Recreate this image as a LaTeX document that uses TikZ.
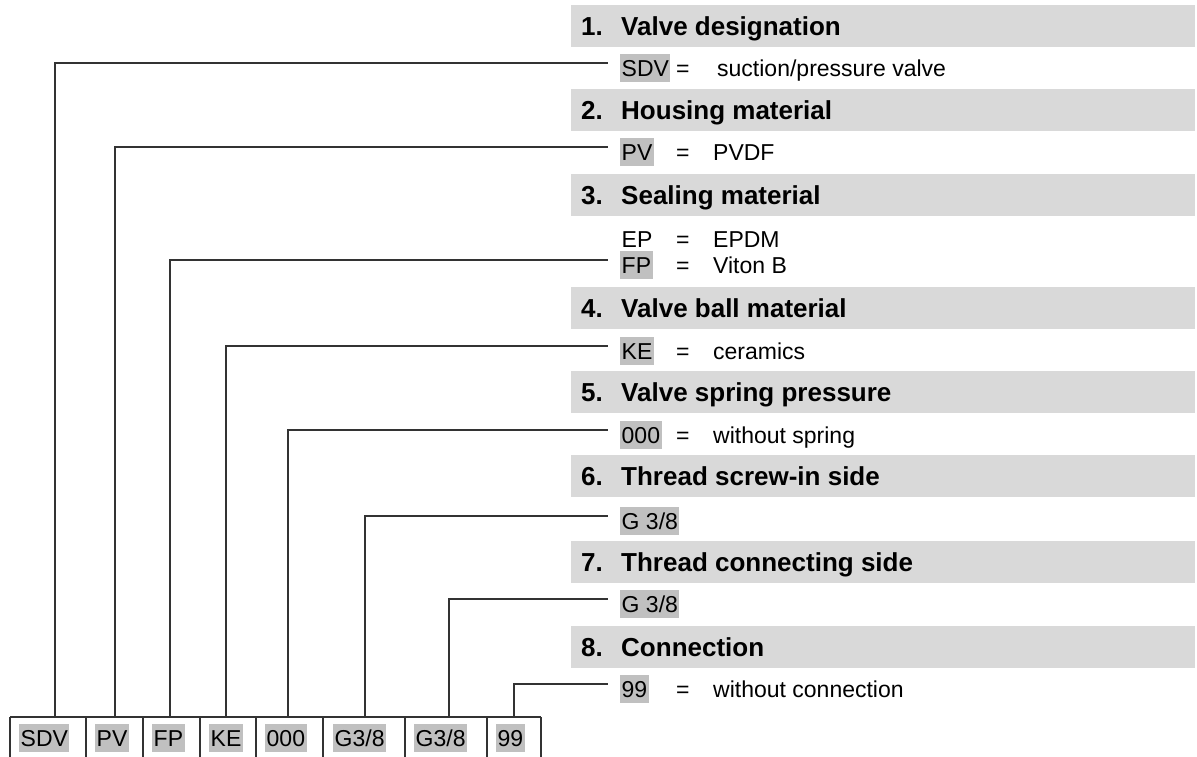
\documentclass[tikz,border=0pt]{standalone}
\usepackage{fontspec}
\setmainfont{Liberation Sans}
\usetikzlibrary{calc}
\definecolor{hl}{HTML}{C0C0C0}
\definecolor{hdr}{HTML}{D9D9D9}
\begin{document}
\begin{tikzpicture}[x=1pt,y=-1pt,
  body/.style={font=\fontsize{23}{27}\selectfont, inner sep=0pt, anchor=base west},
  codeplain/.style={body, inner xsep=1.5pt, inner ysep=1pt, text height=21pt, text depth=5pt},
  code/.style={codeplain, fill=hl},
  head/.style={font=\fontsize{26}{30}\selectfont\bfseries, inner sep=0pt, anchor=base west},
  bar/.style={fill=hdr},
  conn/.style={line width=1.1pt, draw=black!80},
  cell/.style={line width=1.1pt, draw=black!80}]
\useasboundingbox (0,0) rectangle (1197,756);

% header bars
\foreach \t/\n/\s [count=\i] in {5/1./Valve designation, 89/2./Housing material, 174/3./Sealing material, 287/4./Valve ball material, 371/5./Valve spring pressure, 455/6./Thread screw-in side, 541/7./Thread connecting side, 626/8./Connection}{
  \fill[bar] (571,\t) rectangle (1195,\t+42);
  \node[head] (hn\i) at (581,\t+30) {\n};
  \node[head] (h\i) at (621,\t+30) {\s};
}

% entries
\node[code] (c1) at (620,76) {SDV};
\node[body] (q1) at (676,76) {=};
\node[body] (d1) at (717,76) {suction/pressure valve};

\node[code] (c2) at (620,160) {PV};
\node[body] (q2) at (676,160) {=};
\node[body] (d2) at (713,160) {PVDF};

\node[codeplain] (c3a) at (620,247) {EP};
\node[body] (q3a) at (676,247) {=};
\node[body] (d3a) at (713,247) {EPDM};

\node[code] (c3) at (620,273) {FP};
\node[body] (q3) at (676,273) {=};
\node[body] (d3) at (713,273) {Viton B};

\node[code] (c4) at (620,359) {KE};
\node[body] (q4) at (676,359) {=};
\node[body] (d4) at (713,359) {ceramics};

\node[code] (c5) at (620,443) {000};
\node[body] (q5) at (676,443) {=};
\node[body] (d5) at (713,443) {without spring};

\node[code] (c6) at (620,529) {G 3/8};

\node[code] (c7) at (620,612) {G 3/8};

\node[code] (c8) at (620,697) {99};
\node[body] (q8) at (676,697) {=};
\node[body] (d8) at (713,697) {without connection};

% bottom cells
\draw[cell] (10,717) -- (541,717);
\foreach \x in {10,86,143,200,256,323,405,487,541}
  \draw[cell] (\x,717) -- (\x,760);
\node[code] (b1) at (19,746) {SDV};
\node[code] (b2) at (95,746) {PV};
\node[code] (b3) at (152,746) {FP};
\node[code] (b4) at (209,746) {KE};
\node[code] (b5) at (265,746) {000};
\node[code] (b6) at (333,746) {G3/8};
\node[code] (b7) at (414,746) {G3/8};
\node[code] (b8) at (496,746) {99};

% connector start points on top of the cells
\foreach \x [count=\i] in {55,115,170,226,288,365,449,514}
  \coordinate (t\i) at (\x,717);

\foreach \i in {1,...,8}
  \draw[conn] (t\i) |- ([xshift=-12pt,yshift=13pt]c\i.base west);
\end{tikzpicture}
\end{document}
